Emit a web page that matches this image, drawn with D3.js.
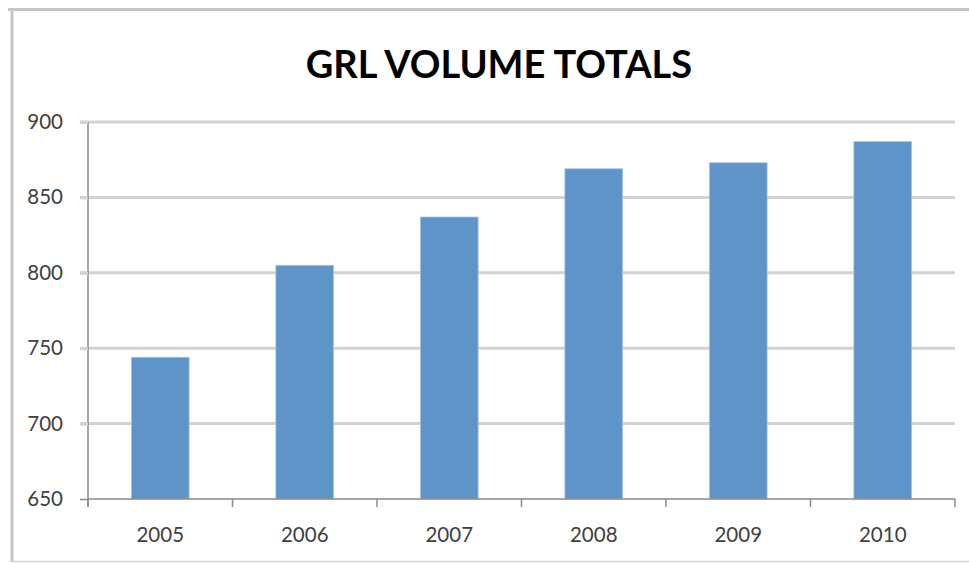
<!DOCTYPE html>
<html>
<head>
<meta charset="utf-8">
<script src="https://cdn.jsdelivr.net/npm/d3@7"></script>
<style>
html,body{margin:0;padding:0;background:#fff;}
svg{display:block;}
</style>
</head>
<body>
<svg id="chart" width="969" height="563"></svg>
<script>
const title = "GRL VOLUME TOTALS";
const years = ["2005","2006","2007","2008","2009","2010"];
const volumes = [744, 805, 837, 869, 873, 887];
const yTicks = [650, 700, 750, 800, 850, 900];

(function () {
const svg = d3.select("#chart");
const W = 969, H = 563;
const pLeft = 88, pRight = 955, pTop = 122, pBottom = 499;
const tickFont = 20.5;

// frame
svg.append("line").attr("x1",8).attr("x2",W).attr("y1",9.5).attr("y2",9.5)
  .attr("stroke","#c6c6c6").attr("stroke-width",3);
svg.append("line").attr("x1",12).attr("x2",12).attr("y1",8).attr("y2",562)
  .attr("stroke","#c6c6c6").attr("stroke-width",3);
svg.append("line").attr("x1",12).attr("x2",W).attr("y1",561.5).attr("y2",561.5)
  .attr("stroke","#d4d4d4").attr("stroke-width",1.5);

const x = d3.scaleBand().domain(years).range([pLeft, pRight]).paddingInner(0.6).paddingOuter(0.3);
const y = d3.scaleLinear().domain([650, 900]).range([pBottom, pTop]);

// gridlines
svg.append("g").selectAll("line").data(yTicks.filter(t => t > 650)).join("line")
  .attr("x1", pLeft - 8).attr("x2", pRight)
  .attr("y1", d => y(d)).attr("y2", d => y(d))
  .attr("stroke", "#d2d2d2").attr("stroke-width", 3);

// bars
svg.append("g").selectAll("rect").data(years).join("rect")
  .attr("x", d => x(d))
  .attr("y", (d, i) => y(volumes[i]))
  .attr("width", x.bandwidth())
  .attr("height", (d, i) => pBottom - y(volumes[i]))
  .attr("fill", "#5e94c8")
  .attr("stroke", "#a9c8e6").attr("stroke-width", 0.8);

// y axis
const yAxis = d3.axisLeft(y).tickValues(yTicks).tickSize(8).tickPadding(17);
const gy = svg.append("g").attr("transform", `translate(${pLeft},0)`).call(yAxis);
gy.select(".domain").attr("stroke", "#8a8a8a").attr("stroke-width", 1.5).attr("d", `M0,${pTop}V${pBottom + 8}`);
gy.selectAll(".tick line").attr("stroke", "#d2d2d2").attr("stroke-width", 3);
gy.selectAll(".tick").filter(d => d === 650).select("line").attr("stroke", "#8a8a8a").attr("stroke-width", 1.5);
gy.selectAll(".tick text").attr("font-family", "Lato, 'Open Sans', sans-serif").attr("font-size", tickFont).attr("fill", "#404040");

// x axis
const xTickScale = d3.scaleLinear().domain([0, years.length]).range([pLeft, pRight]);
svg.append("line").attr("x1", pLeft).attr("x2", pRight).attr("y1", pBottom).attr("y2", pBottom)
  .attr("stroke", "#8a8a8a").attr("stroke-width", 1.5);
svg.append("g").selectAll("line").data(d3.range(years.length + 1)).join("line")
  .attr("x1", d => xTickScale(d)).attr("x2", d => xTickScale(d))
  .attr("y1", pBottom).attr("y2", pBottom + 8)
  .attr("stroke", "#8a8a8a").attr("stroke-width", 1.5);
svg.append("g").selectAll("text").data(years).join("text")
  .attr("x", d => x(d) + x.bandwidth() / 2)
  .attr("y", 542)
  .attr("text-anchor", "middle")
  .attr("font-family", "Lato, 'Open Sans', sans-serif").attr("font-size", tickFont).attr("fill", "#404040")
  .text(d => d);

// title
svg.append("text").attr("x", 499).attr("y", 78).attr("text-anchor", "middle")
  .attr("font-family", "Lato, 'Open Sans', sans-serif").attr("font-weight", "bold")
  .attr("font-size", 38).attr("fill", "#000").text(title);
})();
</script>
</body>
</html>
